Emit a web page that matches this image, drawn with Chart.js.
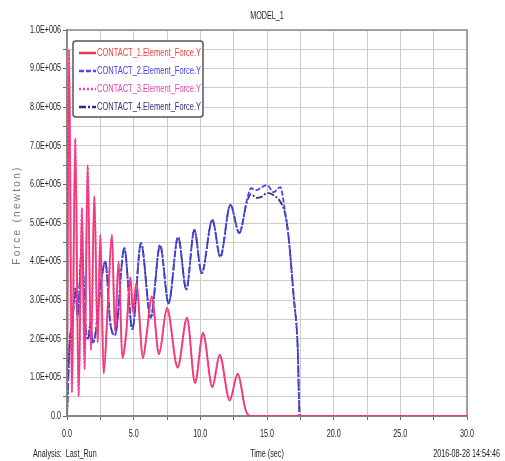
<!DOCTYPE html>
<html>
<head>
<meta charset="utf-8">
<script src="https://cdn.jsdelivr.net/npm/chart.js@4.4.1/dist/chart.umd.min.js"></script>
<style>
  html, body { margin: 0; padding: 0; background: #fff; }
  #wrap { width: 505px; height: 461px; position: relative; }
</style>
</head>
<body>
<div id="wrap"><canvas id="chart"></canvas></div>
<script>
// =============== Data ===============
const seriesNames = [
  'CONTACT_1.Element_Force.Y',
  'CONTACT_2.Element_Force.Y',
  'CONTACT_3.Element_Force.Y',
  'CONTACT_4.Element_Force.Y',
];

// contacts 1 and 3 (time in sec, force in newton)
const timeFront = [0, 0.15, 0.37, 0.62, 0.87, 1.12, 1.32, 1.55, 1.8, 2.05, 2.3, 2.5, 2.75, 3.05, 3.37, 3.6, 3.87,
  4.15, 4.45, 4.75, 4.95, 5.2, 5.7, 6.0, 6.35, 6.9, 7.5, 8.3, 9.0, 9.6, 10.2, 10.9, 11.45, 12.2, 12.8, 13.4, 13.75, 17.5, 30];
const contact1 = [0, 950000, 60000, 720000, 50000, 540000, 120000, 650000, 170000, 570000, 190000, 470000, 110000, 280000,
  470000, 220000, 400000, 150000, 220000, 360000, 270000, 345000, 150000, 220000, 310000, 160000, 280000, 125000, 255000,
  85000, 215000, 75000, 158000, 40000, 110000, 15000, 0, 0, 0];
const contact3 = [0, 940000, 65000, 715000, 55000, 535000, 125000, 645000, 175000, 565000, 195000, 465000, 115000, 275000,
  465000, 225000, 395000, 155000, 215000, 355000, 265000, 340000, 155000, 215000, 305000, 165000, 275000, 130000, 250000,
  90000, 210000, 80000, 155000, 45000, 105000, 15000, 0, 0, 0];

// contacts 2 and 4
const timeBack = [0, 0.2, 0.4, 0.62, 0.8, 1.1, 1.42, 1.6, 1.75, 1.95, 2.12, 2.5, 2.87, 3.25, 3.6, 4.3, 4.9, 5.55, 6.28,
  6.98, 7.62, 8.33, 8.95, 9.55, 10.1, 10.9, 11.5, 12.25, 12.92, 13.5, 13.8, 14.2, 14.6, 15.0, 15.5, 16.0, 16.35, 16.6,
  17.0, 17.3, 17.45, 30];
const contact2 = [0, 190000, 240000, 330000, 260000, 430000, 220000, 200000, 240000, 190000, 210000, 330000, 400000,
  240000, 210000, 435000, 225000, 448000, 255000, 443000, 292000, 464000, 328000, 482000, 370000, 508000, 412000, 547000,
  474000, 560000, 590000, 585000, 593000, 598000, 580000, 593000, 530000, 470000, 310000, 180000, 0, 0];
const contact4 = [0, 190000, 240000, 330000, 260000, 430000, 220000, 200000, 240000, 190000, 210000, 330000, 400000,
  240000, 210000, 435000, 225000, 448000, 255000, 443000, 292000, 464000, 328000, 482000, 370000, 508000, 412000, 547000,
  474000, 555000, 575000, 565000, 568000, 578000, 572000, 555000, 525000, 470000, 310000, 180000, 0, 0];

const xTicks = [0, 5, 10, 15, 20, 25, 30];
const yTicks = [0, 100000, 200000, 300000, 400000, 500000, 600000, 700000, 800000, 900000, 1000000];

// =============== Helpers ===============
const FONT = "10px 'Liberation Sans', Arial, sans-serif";
const NARROW = 0.72;

function toPoints(times, values) {
  return times.map((t, i) => ({ x: t, y: values[i] }));
}

function sciLabel(v) {
  if (v === 0) return '0.0';
  const exp = Math.floor(Math.log10(v) + 1e-9);
  const mant = v / Math.pow(10, exp);
  return mant.toFixed(1) + 'E+' + String(exp).padStart(3, '0');
}

// narrow text (the original uses a condensed face)
function narrowText(ctx, text, x, y, align, sx) {
  ctx.save();
  ctx.translate(x, y);
  ctx.scale(sx || NARROW, 1);
  ctx.textAlign = align;
  ctx.fillText(text, 0, 0);
  ctx.restore();
}

// ===== Legend box inside the plot =====
const boxLegend = {
  id: 'boxLegend',
  afterDatasetsDraw(chart) {
    const { ctx, chartArea } = chart;
    const x0 = chartArea.left + 6;
    const y0 = chartArea.top + 11;
    const w = 130;
    const h = 76;
    ctx.save();
    ctx.fillStyle = '#fff';
    ctx.strokeStyle = '#555';
    ctx.lineWidth = 1.5;
    ctx.beginPath();
    ctx.roundRect(x0, y0, w, h, 3);
    ctx.fill();
    ctx.stroke();
    ctx.font = FONT;
    ctx.textBaseline = 'middle';
    chart.data.datasets.forEach((ds, i) => {
      const y = y0 + 12 + i * 18;
      ctx.strokeStyle = ds.borderColor;
      ctx.lineWidth = 2.5;
      ctx.setLineDash(ds.borderDash || []);
      ctx.beginPath();
      ctx.moveTo(x0 + 6, y);
      ctx.lineTo(x0 + 23, y);
      ctx.stroke();
      ctx.setLineDash([]);
      ctx.fillStyle = ds.textColor;
      narrowText(ctx, ds.label, x0 + 24, y, 'left', 0.75);
    });
    ctx.restore();
  },
};

// ===== Frame, tick labels, titles, footer =====
const frameAndText = {
  id: 'frameAndText',
  beforeDatasetsDraw(chart) {
    const { ctx, chartArea } = chart;
    ctx.save();
    ctx.strokeStyle = '#8a8a8a';
    ctx.lineWidth = 1.5;
    ctx.strokeRect(chartArea.left, chartArea.top, chartArea.width, chartArea.height);
    ctx.restore();
  },
  afterDraw(chart) {
    const { ctx, chartArea } = chart;
    const xs = chart.scales.x;
    const ys = chart.scales.y;
    const midX = (chartArea.left + chartArea.right) / 2;
    ctx.save();
    ctx.font = FONT;
    ctx.fillStyle = '#222';
    ctx.textBaseline = 'middle';

    yTicks.forEach((v) => narrowText(ctx, sciLabel(v), chartArea.left - 6, ys.getPixelForValue(v), 'right'));
    xTicks.forEach((v) => narrowText(ctx, v.toFixed(1), xs.getPixelForValue(v), chartArea.bottom + 18, 'center'));

    narrowText(ctx, 'MODEL_1', midX, 16, 'center');
    narrowText(ctx, 'Time (sec)', midX, chart.height - 7, 'center');
    narrowText(ctx, 'Analysis:  Last_Run', 33, chart.height - 7, 'left');
    narrowText(ctx, '2016-08-28 14:54:46', chart.width - 5, chart.height - 7, 'right');

    // y title, letter-spaced
    ctx.translate(17, (chartArea.top + chartArea.bottom) / 2 - 8);
    ctx.rotate(-Math.PI / 2);
    ctx.fillStyle = '#777';
    ctx.letterSpacing = '2.3px';
    ctx.textAlign = 'center';
    ctx.fillText('Force (newton)', 0, 0);
    ctx.restore();
  },
};

// ===== Chart =====
const ctx = document.getElementById('chart').getContext('2d');
new Chart(ctx, {
  type: 'line',
  data: {
    datasets: [
      { label: seriesNames[0], data: toPoints(timeFront, contact1), borderColor: '#e8344e', textColor: '#f0403c', borderDash: [], order: 1 },
      { label: seriesNames[1], data: toPoints(timeBack, contact2), borderColor: '#4848ec', textColor: '#3c3cf0', borderDash: [5, 2], order: 2 },
      { label: seriesNames[2], data: toPoints(timeFront, contact3), borderColor: '#ff3cb0', textColor: '#f040a8', borderDash: [2, 2], order: 0 },
      { label: seriesNames[3], data: toPoints(timeBack, contact4), borderColor: '#2c2c7c', textColor: '#30307a', borderDash: [7, 2, 2, 2], order: 3 },
    ].map((ds) => ({
      ...ds,
      borderWidth: 1.8,
      pointRadius: 0,
      fill: false,
      cubicInterpolationMode: 'monotone',
    })),
  },
  options: {
    responsive: true,
    maintainAspectRatio: false,
    animation: false,
    layout: { padding: { left: 0, right: 38, top: 30, bottom: 0 } },
    plugins: {
      legend: { display: false },
      tooltip: { enabled: false },
      title: { display: false },
    },
    scales: {
      x: {
        type: 'linear',
        min: 0,
        max: 30,
        afterFit: (scale) => { scale.height = 45; },
        ticks: { stepSize: 2.5, autoSkip: false, display: false },
        grid: { color: '#cccccc', lineWidth: 1, tickLength: 4, tickColor: '#666' },
        border: { color: '#7a7a7a', width: 2 },
      },
      y: {
        min: 0,
        max: 1000000,
        afterFit: (scale) => { scale.width = 67; },
        ticks: { stepSize: 50000, autoSkip: false, display: false },
        grid: { color: '#cccccc', lineWidth: 1, tickLength: 4, tickColor: '#666' },
        border: { color: '#7a7a7a', width: 1.5 },
      },
    },
  },
  plugins: [frameAndText, boxLegend],
});
</script>
</body>
</html>
